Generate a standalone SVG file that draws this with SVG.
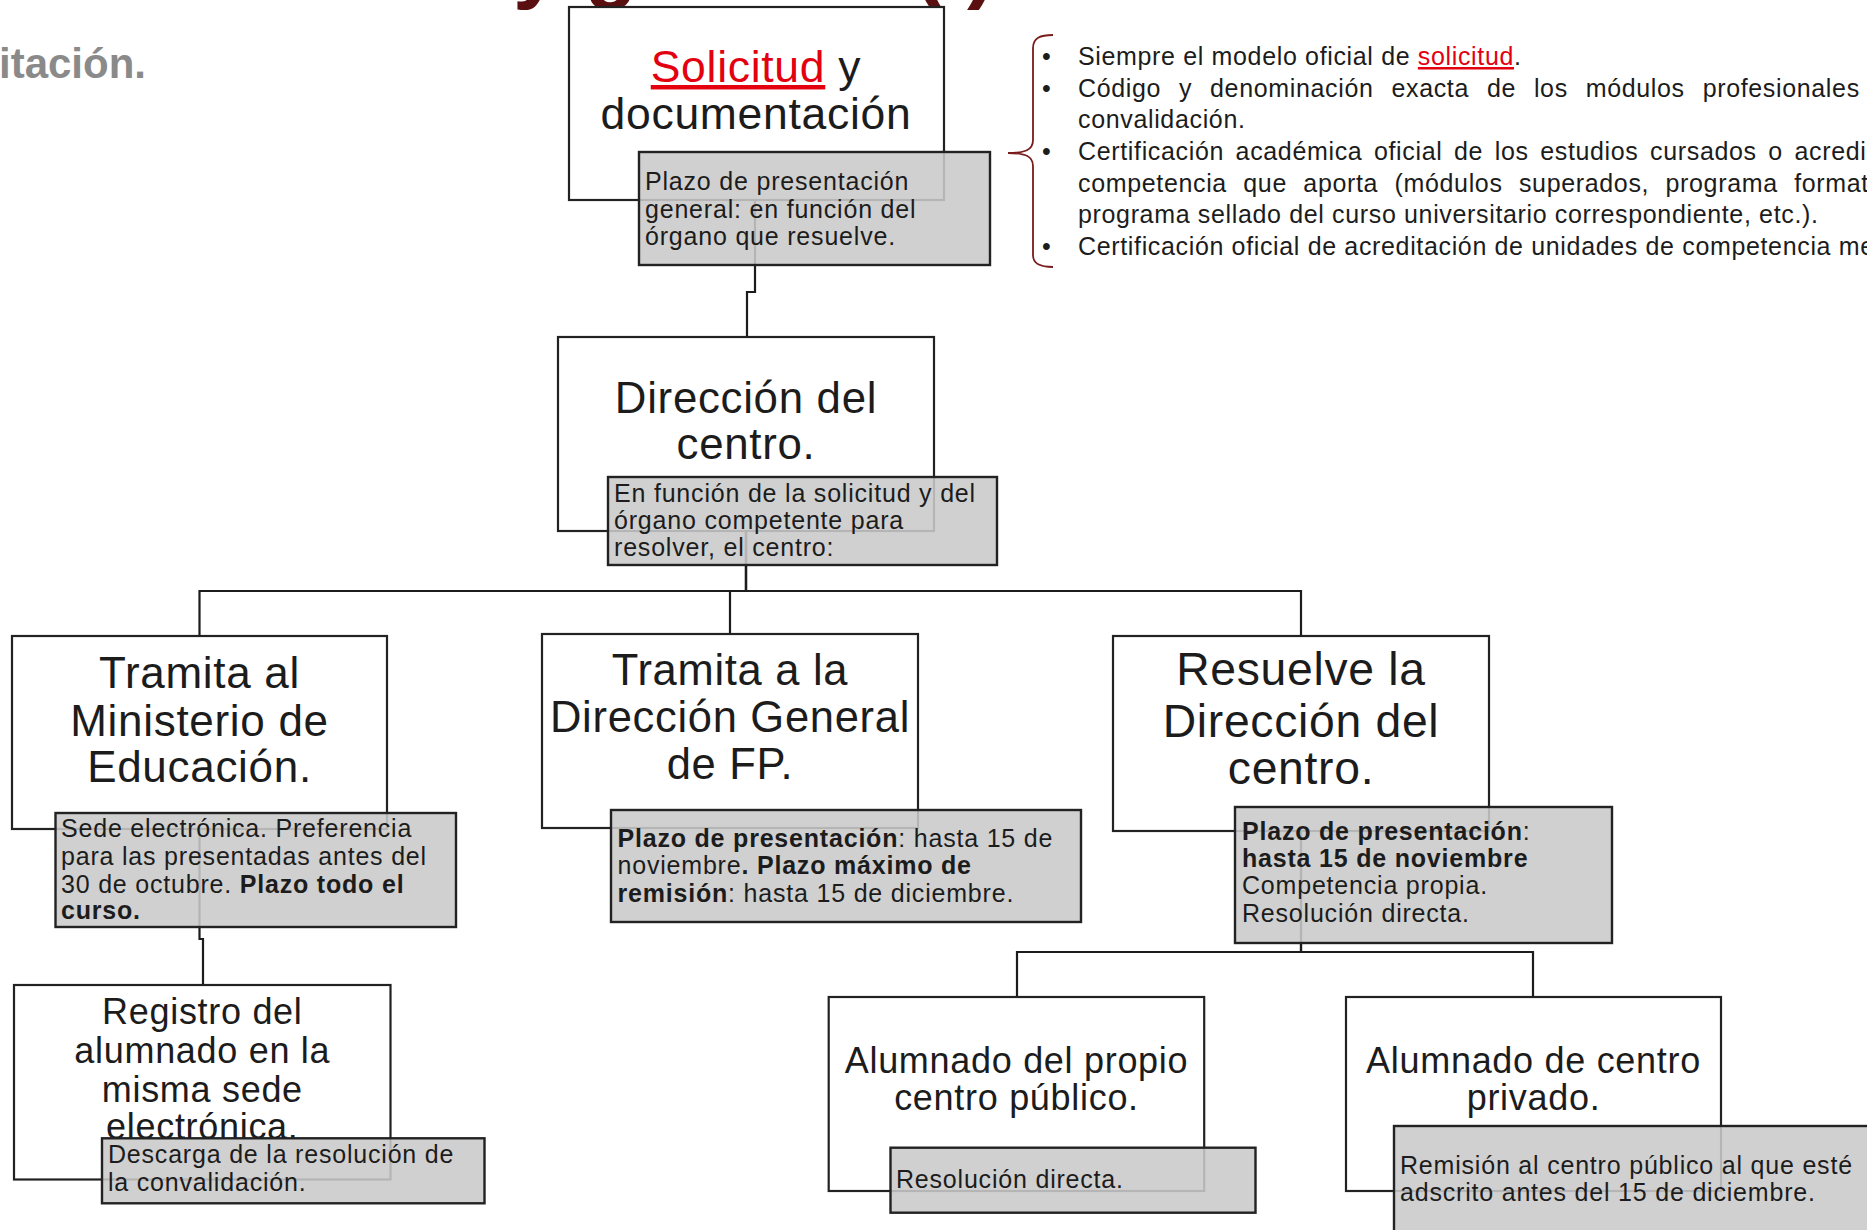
<svg xmlns="http://www.w3.org/2000/svg" width="1867" height="1230" viewBox="0 0 1867 1230">
<style>
text { font-family: "Liberation Sans", Arial, sans-serif; fill: #1c1c1c; }
.box { fill: #ffffff; stroke: #222222; stroke-width: 2.2; }
.note { fill: #cacaca; fill-opacity: 0.88; stroke: #222222; stroke-width: 2.4; }
.conn { fill: none; stroke: #1c1c1c; stroke-width: 2.2; }
.big { text-anchor: middle; letter-spacing: 0.7px; }
.sm { font-size: 25px; letter-spacing: 0.8px; }
.li { letter-spacing: 0.65px; }
.b { font-weight: bold; }
.red { fill: #e3000f; text-decoration: underline; }
.brace { fill: none; stroke: #7a1c1c; stroke-width: 1.8; }
</style>
<rect x="0" y="0" width="1867" height="1230" fill="#ffffff"/>

<g id="title">
<text x="513" y="-8" font-size="86" font-weight="bold" style="fill:#5a1010">y gestión (I)</text>
<text x="-1" y="78" font-size="42" font-weight="bold" style="fill:#8a8a8a">itación.</text>
</g>

<g id="connectors">
<path class="conn" d="M755,200 V292 H747 V337"/>
<path class="conn" d="M746,531 V591 H199.5 V636"/>
<path class="conn" d="M746,531 V591 H730 V634"/>
<path class="conn" d="M746,531 V591 H1301 V636"/>
<path class="conn" d="M199.5,829 V939 H203 V985"/>
<path class="conn" d="M1301,831 V952 H1017 V997"/>
<path class="conn" d="M1301,831 V952 H1533 V997"/>
</g>

<g id="node-solicitud">
<rect class="box" x="569" y="7" width="375" height="193"/>
<text class="big" x="756" y="82" font-size="44.5"><tspan class="red">Solicitud</tspan> y</text>
<text class="big" x="756" y="128.5" font-size="44.5">documentación</text>
<rect class="note" x="639" y="152" width="351" height="113"/>
<text class="sm" x="645" y="190">Plazo de presentación</text>
<text class="sm" x="645" y="217.5">general: en función del</text>
<text class="sm" x="645" y="245">órgano que resuelve.</text>
</g>

<g id="doc-list">
<path class="brace" d="M1053,35 C1040,35 1033,38 1033,48 L1033,140 C1033,150 1025,153 1008,153 C1025,153 1033,156 1033,166 L1033,255 C1033,264 1040,267 1053,267"/>
<text class="sm" x="1042" y="65">•</text>
<text class="sm" x="1042" y="96.7">•</text>
<text class="sm" x="1042" y="159.8">•</text>
<text class="sm" x="1042" y="255">•</text>
<text class="sm li" x="1078" y="65">Siempre el modelo oficial de <tspan class="red">solicitud</tspan>.</text>
<text class="sm li" x="1078" y="96.7" word-spacing="10.3">Código y denominación exacta de los módulos profesionales</text>
<text class="sm li" x="1078" y="128.3">convalidación.</text>
<text class="sm li" x="1078" y="159.8" word-spacing="4">Certificación académica oficial de los estudios cursados o acredi</text>
<text class="sm li" x="1078" y="191.5" word-spacing="8.8">competencia que aporta (módulos superados, programa format</text>
<text class="sm li" x="1078" y="223.3">programa sellado del curso universitario correspondiente, etc.).</text>
<text class="sm li" x="1078" y="255">Certificación oficial de acreditación de unidades de competencia me</text>
</g>

<g id="node-direccion">
<rect class="box" x="558" y="337" width="376" height="194"/>
<text class="big" x="746" y="412.7" font-size="43.8">Dirección del</text>
<text class="big" x="746" y="459.3" font-size="43.8">centro.</text>
<rect class="note" x="608" y="477" width="389" height="88"/>
<text class="sm" x="614" y="502">En función de la solicitud y del</text>
<text class="sm" x="614" y="528.5">órgano competente para</text>
<text class="sm" x="614" y="556">resolver, el centro:</text>
</g>

<g id="node-ministerio">
<rect class="box" x="12" y="636" width="375" height="193"/>
<text class="big" x="199.5" y="688" font-size="44">Tramita al</text>
<text class="big" x="199.5" y="735.7" font-size="44">Ministerio de</text>
<text class="big" x="199.5" y="782.3" font-size="44">Educación.</text>
<rect class="note" x="55.5" y="813" width="400.5" height="114"/>
<text class="sm" x="61" y="836.7">Sede electrónica. Preferencia</text>
<text class="sm" x="61" y="865">para las presentadas antes del</text>
<text class="sm" x="61" y="892.7">30 de octubre. <tspan class="b">Plazo todo el</tspan></text>
<text class="sm b" x="61" y="919.3">curso.</text>
</g>

<g id="node-dgfp">
<rect class="box" x="542" y="634" width="376" height="194"/>
<text class="big" x="730" y="685" font-size="43.5">Tramita a la</text>
<text class="big" x="730" y="732.3" font-size="43.5">Dirección General</text>
<text class="big" x="730" y="779.3" font-size="43.5">de FP.</text>
<rect class="note" x="611" y="810" width="470" height="112"/>
<text class="sm" x="617.5" y="846.7"><tspan class="b">Plazo de presentación</tspan>: hasta 15 de</text>
<text class="sm" x="617.5" y="874">noviembre<tspan class="b">. Plazo máximo de</tspan></text>
<text class="sm" x="617.5" y="901.7"><tspan class="b">remisión</tspan>: hasta 15 de diciembre.</text>
</g>

<g id="node-resuelve">
<rect class="box" x="1113" y="636" width="376" height="195"/>
<text class="big" x="1301" y="685" font-size="46.3">Resuelve la</text>
<text class="big" x="1301" y="736.5" font-size="46.3">Dirección del</text>
<text class="big" x="1301" y="783.5" font-size="46.3">centro.</text>
<rect class="note" x="1235" y="807" width="377" height="136"/>
<text class="sm" x="1242" y="840"><tspan class="b">Plazo de presentación</tspan>:</text>
<text class="sm b" x="1242" y="866.7">hasta 15 de noviembre</text>
<text class="sm" x="1242" y="894">Competencia propia.</text>
<text class="sm" x="1242" y="921.7">Resolución directa.</text>
</g>

<g id="node-registro">
<rect class="box" x="14" y="985" width="376.5" height="194.5"/>
<text class="big" x="202.3" y="1024.3" font-size="36">Registro del</text>
<text class="big" x="202.3" y="1063.3" font-size="36">alumnado en la</text>
<text class="big" x="202.3" y="1101.7" font-size="36">misma sede</text>
<text class="big" x="202.3" y="1139.3" font-size="36">electrónica.</text>
<rect class="note" x="102" y="1138.3" width="382.5" height="65"/>
<text class="sm" x="108" y="1163.3">Descarga de la resolución de</text>
<text class="sm" x="108" y="1191">la convalidación.</text>
</g>

<g id="node-propio">
<rect class="box" x="828.7" y="997" width="375.5" height="194"/>
<text class="big" x="1016.5" y="1072.5" font-size="36">Alumnado del propio</text>
<text class="big" x="1016.5" y="1110" font-size="36">centro público.</text>
<rect class="note" x="890.5" y="1147.7" width="365" height="65"/>
<text class="sm" x="896" y="1188.3">Resolución directa.</text>
</g>

<g id="node-privado">
<rect class="box" x="1346" y="997" width="375" height="194"/>
<text class="big" x="1533.5" y="1072.5" font-size="36">Alumnado de centro</text>
<text class="big" x="1533.5" y="1110" font-size="36">privado.</text>
<rect class="note" x="1394" y="1126" width="480" height="112"/>
<text class="sm" x="1400" y="1174">Remisión al centro público al que esté</text>
<text class="sm" x="1400" y="1201">adscrito antes del 15 de diciembre.</text>
</g>
</svg>
